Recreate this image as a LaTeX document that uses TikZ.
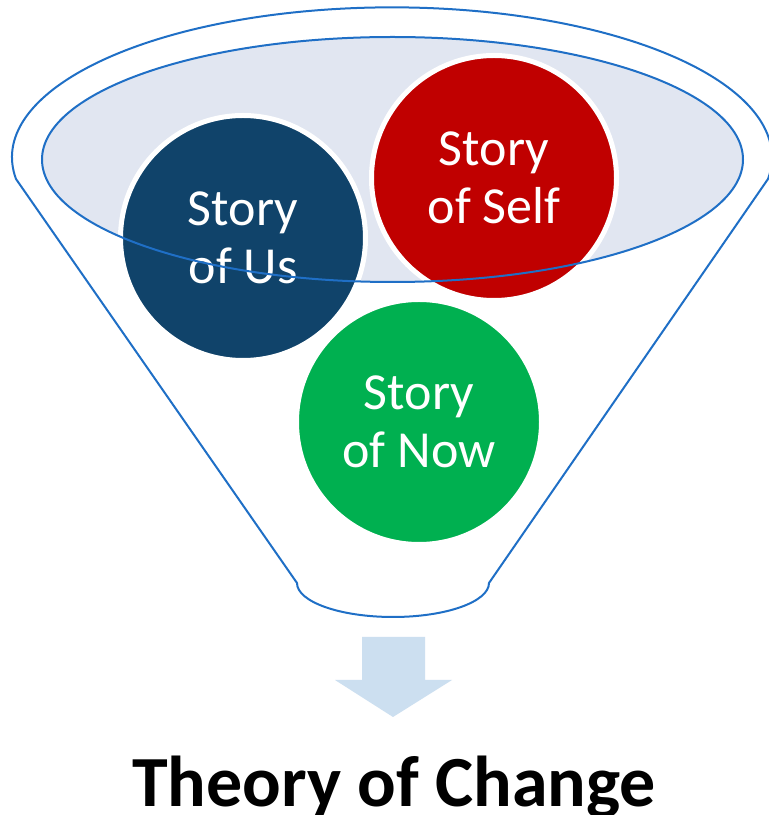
\documentclass[tikz,border=0pt]{standalone}
\usepackage{fontspec}
\setmainfont{Carlito}
\usepackage{tikz}
\usetikzlibrary{arrows.meta}

\definecolor{funnelblue}{HTML}{1F6FC6}
\definecolor{bowlfill}{HTML}{E1E6F1}
\definecolor{usblue}{HTML}{10436A}
\definecolor{selfred}{HTML}{C00000}
\definecolor{nowgreen}{HTML}{00B050}
\definecolor{arrowfill}{HTML}{CCDFF0}

\begin{document}
\begin{tikzpicture}[x=0.5pt, y=0.5pt, line cap=round, line join=round]
  % ---- Styles ----
  \tikzset{
    funnel/.style={draw=funnelblue, line width=1pt},
    story/.style={circle, draw=white, line width=2.5pt, minimum size=122.5pt,
                  inner sep=0pt, align=center, text=white,
                  font=\fontsize{26}{29}\selectfont},
    down/.style={fill=arrowfill, preaction={draw=white, line width=5pt}},
    title/.style={font=\bfseries\fontsize{36}{43}\selectfont},
  }

  % page area
  \useasboundingbox (0,0) rectangle (768,815);

  % ---- Funnel ----
  \draw[funnel] (16,636) arc[start angle=188.3, end angle=-8.3, x radius=380, y radius=150]
    -- (489,232) arc[start angle=0, end angle=-180, x radius=96, y radius=34] -- cycle;

  % bowl (fill first, outline over the circles)
  \fill[bowlfill] (392.5,655.5) ellipse[x radius=350.5, y radius=122.5];

  % ---- Stories ----
  \node[story, fill=usblue] (us) at (243,577) {Story\\of Us};
  \node[story, fill=selfred] (self) at (494,637) {Story\\of Self};
  \node[story, fill=nowgreen] (now) at (419,393) {Story\\of Now};

  \draw[funnel] (392.5,655.5) ellipse[x radius=350.5, y radius=122.5];

  % ---- Arrow down ----
  \path[down] (362,178) -- (425,178) -- (425,135) -- (452,135) -- (393,98)
    -- (335,135) -- (362,135) -- cycle;

  % ---- Result ----
  \node[title, anchor=base] (change) at (394,9) {Theory of Change};

\end{tikzpicture}
\end{document}
